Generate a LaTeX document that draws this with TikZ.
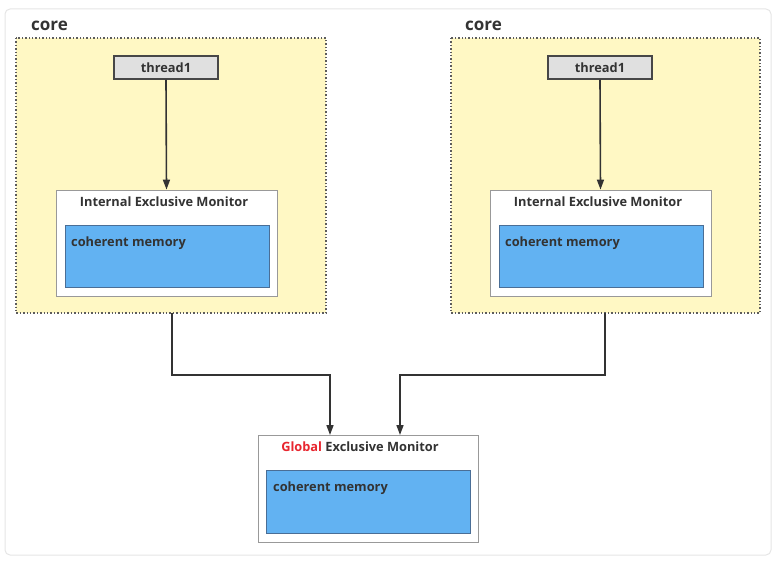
\documentclass[tikz,border=0pt]{standalone}
\usepackage{fontspec}
\setmainfont{Open Sans}
\usetikzlibrary{arrows.meta}
\definecolor{txt}{HTML}{333333}
\definecolor{coreyel}{HTML}{FFF8C4}
\definecolor{memblue}{HTML}{62B2F2}
\definecolor{memedge}{HTML}{4A6E96}
\definecolor{thrgray}{HTML}{E0E0E0}
\definecolor{globred}{HTML}{E8262F}
\tikzset{
  corebox/.style={draw=txt!80, fill=coreyel, line width=1.4pt, dotted},
  threadbox/.style={draw=txt!90, fill=thrgray, line width=1.5pt},
  monbox/.style={draw=gray!80, fill=white, line width=0.8pt},
  membox/.style={draw=memedge, fill=memblue, line width=0.8pt},
  lbl/.style={text=txt, font=\bfseries\fontsize{12.8}{14}\selectfont, inner sep=0pt},
  corelbl/.style={text=txt, font=\bfseries\fontsize{17}{19}\selectfont, inner sep=0pt, anchor=west},
  conn/.style={draw=txt, line width=1.6pt, -{Triangle[length=10pt,width=7pt]}}
}
\begin{document}
\begin{tikzpicture}[x=1pt,y=-1pt]
\useasboundingbox (0,0) rectangle (774,561);
\draw[draw=gray!20, line width=1pt, rounded corners=5pt] (5,9) rectangle (771,555);
% cores
\draw[corebox] (16,38) rectangle (326,313);
\node[corelbl] (corel) at (31,26) {core};
\draw[corebox] (451,38) rectangle (760,313);
\node[corelbl] (corer) at (465,26) {core};
\coordinate (lcb) at (172,313);
\coordinate (rcb) at (605,313);
% threads
\node[threadbox, minimum width=104pt, minimum height=23pt, inner sep=0pt] (thl) at (166,67.5) {};
\node[lbl] at (thl) {thread1};
\node[threadbox, minimum width=104pt, minimum height=23pt, inner sep=0pt] (thr) at (600,67.5) {};
\node[lbl] at (thr) {thread1};
% internal monitors
\node[monbox, minimum width=221pt, minimum height=106pt, inner sep=0pt] (ieml) at (166.5,243) {};
\node[lbl] (ieml-t) at (164,202) {Internal Exclusive Monitor};
\node[membox, minimum width=204pt, minimum height=62pt, inner sep=0pt] (meml) at (167,256) {};
\node[lbl, anchor=west] at (71,243) {coherent memory};
\node[monbox, minimum width=221pt, minimum height=106pt, inner sep=0pt] (iemr) at (600.5,243) {};
\node[lbl] (iemr-t) at (598,202) {Internal Exclusive Monitor};
\node[membox, minimum width=204pt, minimum height=62pt, inner sep=0pt] (memr) at (601,256) {};
\node[lbl, anchor=west] at (505,243) {coherent memory};
% global monitor
\node[monbox, minimum width=220pt, minimum height=107pt, inner sep=0pt] (gem) at (368,488.5) {};
\node[lbl] (gem-t) at (360,447) {\textcolor{globred}{Global} Exclusive Monitor};
\node[membox, minimum width=204pt, minimum height=63pt, inner sep=0pt] (memg) at (368,501.5) {};
\node[lbl, anchor=west] at (273,488) {coherent memory};
% connectors
\draw[conn] (thl.south) -- (ieml.north);
\draw[conn] (thr.south) -- (iemr.north);
\coordinate (gl) at (330,435);
\coordinate (gr) at (400,435);
\draw[conn] (lcb) -- (172,375) -- (330,375) -- (gl);
\draw[conn] (rcb) -- (605,375) -- (400,375) -- (gr);
\end{tikzpicture}
\end{document}
